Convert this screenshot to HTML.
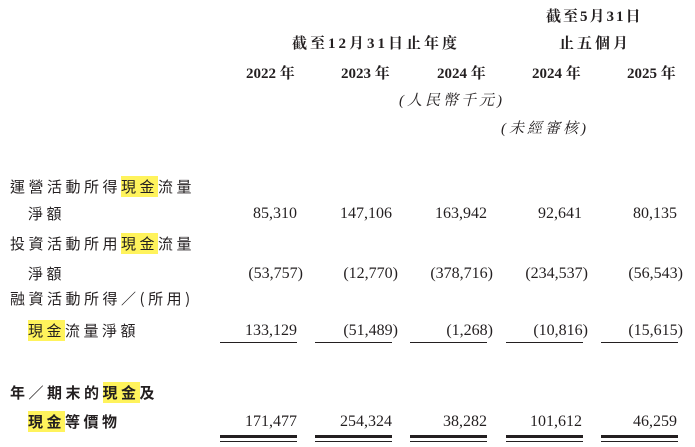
<!DOCTYPE html>
<html><head><meta charset="utf-8"><style>
body{margin:0;width:695px;height:447px;background:#fff;position:relative;overflow:hidden;color:#231f20}
.t{position:absolute;white-space:nowrap;line-height:1}
.h{font-family:"Liberation Serif","Noto Serif CJK TC",serif;font-weight:bold;font-size:15px}
.l{font-family:"Noto Sans CJK TC","Liberation Sans",sans-serif;font-size:15px;letter-spacing:3.5px;left:10px}
.n{font-family:"Liberation Serif",serif;font-size:16px;text-align:right;width:90px}
.i{font-family:"Liberation Serif","Noto Serif CJK TC",serif;font-style:italic;font-size:15px}
.y{background:#fff35c}
.p{margin-right:-6px}
.u{position:absolute;height:1px;background:#231f20;width:77px}
.d{position:absolute;height:3px;background:#231f20;width:77px;border-bottom:0}
.d2{position:absolute;height:1px;background:#231f20;width:77px}
</style></head><body>
<div class="t h" style="left:546px;top:10px;letter-spacing:2px">截至5月31日</div>
<div class="t h" style="left:292px;top:37px;letter-spacing:3px">截至12月31日止年度</div>
<div class="t h" style="left:559px;top:37px;letter-spacing:3px">止五個月</div>
<div class="t h" style="left:246px;top:67px">2022 年</div>
<div class="t h" style="left:341px;top:67px">2023 年</div>
<div class="t h" style="left:437px;top:67px">2024 年</div>
<div class="t h" style="left:532px;top:67px">2024 年</div>
<div class="t h" style="left:627px;top:67px">2025 年</div>
<div class="t i" style="left:399px;top:94px;letter-spacing:3px">(人民幣千元)</div>
<div class="t i" style="left:501px;top:122px;letter-spacing:3px">(未經審核)</div>

<div class="t l" style="top:179px">運營活動所得<span class="y">現金</span>流量</div>
<div class="t l" style="top:206px;left:28px">淨額</div>
<div class="t l" style="top:236px">投資活動所用<span class="y">現金</span>流量</div>
<div class="t l" style="top:266px;left:28px">淨額</div>
<div class="t l" style="top:291px">融資活動所得／(所用)</div>
<div class="t l" style="top:323px;left:28px"><span class="y">現金</span>流量淨額</div>
<div class="t l" style="top:385px;font-weight:bold">年／期末的<span class="y">現金</span>及</div>
<div class="t l" style="top:414px;left:28px;font-weight:bold"><span class="y">現金</span>等價物</div>

<div class="t n" style="left:207px;top:206px">85,310</div>
<div class="t n" style="left:302px;top:206px">147,106</div>
<div class="t n" style="left:397px;top:206px">163,942</div>
<div class="t n" style="left:492px;top:206px">92,641</div>
<div class="t n" style="left:587px;top:206px">80,135</div>

<div class="t n" style="left:207px;top:266px"><span class="p">(53,757)</span></div>
<div class="t n" style="left:302px;top:266px"><span class="p">(12,770)</span></div>
<div class="t n" style="left:397px;top:266px"><span class="p">(378,716)</span></div>
<div class="t n" style="left:492px;top:266px"><span class="p">(234,537)</span></div>
<div class="t n" style="left:587px;top:266px"><span class="p">(56,543)</span></div>

<div class="t n" style="left:207px;top:323px">133,129</div>
<div class="t n" style="left:302px;top:323px"><span class="p">(51,489)</span></div>
<div class="t n" style="left:397px;top:323px"><span class="p">(1,268)</span></div>
<div class="t n" style="left:492px;top:323px"><span class="p">(10,816)</span></div>
<div class="t n" style="left:587px;top:323px"><span class="p">(15,615)</span></div>

<div class="t n" style="left:207px;top:414px">171,477</div>
<div class="t n" style="left:302px;top:414px">254,324</div>
<div class="t n" style="left:397px;top:414px">38,282</div>
<div class="t n" style="left:492px;top:414px">101,612</div>
<div class="t n" style="left:587px;top:414px">46,259</div>

<div class="u" style="left:220px;top:342px"></div>
<div class="u" style="left:315px;top:342px"></div>
<div class="u" style="left:410px;top:342px"></div>
<div class="u" style="left:506px;top:342px"></div>
<div class="u" style="left:601px;top:342px"></div>

<div class="d" style="left:220px;top:435px"></div>
<div class="d" style="left:315px;top:435px"></div>
<div class="d" style="left:410px;top:435px"></div>
<div class="d" style="left:506px;top:435px"></div>
<div class="d" style="left:601px;top:435px"></div>
<div class="d2" style="left:220px;top:441px"></div>
<div class="d2" style="left:315px;top:441px"></div>
<div class="d2" style="left:410px;top:441px"></div>
<div class="d2" style="left:506px;top:441px"></div>
<div class="d2" style="left:601px;top:441px"></div>
</body></html>
